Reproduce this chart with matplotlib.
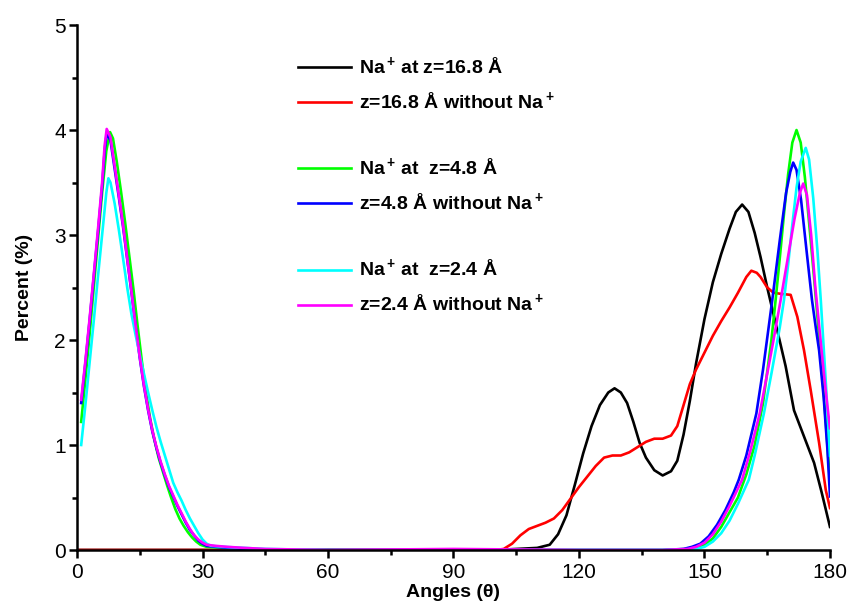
import numpy as np
import matplotlib
matplotlib.use("Agg")
import matplotlib.pyplot as plt
from matplotlib.lines import Line2D
from matplotlib.ticker import MultipleLocator

# angular distributions (percent) for the six runs
black_ang = [0, 100, 105, 110, 113, 115, 117, 119, 121, 123, 125, 127, 128.5, 130, 131.5, 133, 134.5, 136, 138, 140,
             142, 143.5, 145, 146.5, 148, 150, 152, 154, 156, 157.5, 159, 160.5, 162, 163.4, 165, 167, 169.4, 171.4,
             173.8, 176.2, 178, 180]
black_pct = [0, 0, 0.01, 0.02, 0.05, 0.15, 0.33, 0.62, 0.92, 1.18, 1.38, 1.5, 1.54, 1.5, 1.4, 1.22, 1.02, 0.88, 0.76, 0.71,
             0.75, 0.85, 1.1, 1.42, 1.78, 2.2, 2.55, 2.82, 3.06, 3.22, 3.29, 3.22, 3.02, 2.79, 2.5, 2.16, 1.75, 1.33,
             1.08, 0.83, 0.55, 0.22]

red_ang = [0, 100, 102, 104, 106, 108, 110, 112, 114, 116, 118, 120, 122, 124, 126, 128, 130, 132, 134, 136, 138, 140,
           142, 143.5, 145, 146.5, 148, 150, 152, 154, 156, 158, 160, 161.2, 162.5, 163.4, 165, 166.5, 168.2, 170.6,
           172.2, 173.8, 175.4, 177.4, 179, 180]
red_pct = [0, 0, 0.01, 0.06, 0.14, 0.2, 0.23, 0.26, 0.3, 0.38, 0.49, 0.6, 0.7, 0.8, 0.88, 0.9, 0.9, 0.93, 0.98, 1.03, 1.06,
           1.06, 1.09, 1.18, 1.38, 1.58, 1.72, 1.88, 2.04, 2.18, 2.31, 2.45, 2.6, 2.66, 2.64, 2.6, 2.5, 2.45, 2.44,
           2.43, 2.22, 1.9, 1.52, 1.02, 0.57, 0.4]

green_ang = [1, 2, 3, 4, 5, 6, 7, 7.9, 8.6, 9.5, 10.5, 11.5, 12.5, 13.5, 14.5, 15.5, 16.5, 17.5, 18.5, 19.5, 20.5, 21.5,
             22.5, 23.5, 24.5, 25.5, 26.5, 27.5, 28.5, 29.5, 31, 35, 40, 45, 60, 90, 120, 140, 146, 148, 150, 152,
             154, 156, 158, 160, 162, 164, 166, 167, 168, 169, 170, 171, 172, 173, 174, 175, 176, 177, 178, 179, 180]
green_pct = [1.22, 1.62, 2.05, 2.5, 2.95, 3.4, 3.8, 3.98, 3.92, 3.7, 3.42, 3.12, 2.8, 2.48, 2.13, 1.8, 1.5, 1.25, 1.05,
             0.88, 0.75, 0.62, 0.5, 0.39, 0.3, 0.23, 0.17, 0.12, 0.08, 0.05, 0.03, 0.02, 0.01, 0, 0, 0, 0, 0, 0.01,
             0.02, 0.05, 0.11, 0.22, 0.36, 0.5, 0.72, 1.0, 1.4, 2.0, 2.38, 2.78, 3.2, 3.58, 3.88, 4.0, 3.88, 3.55,
             3.12, 2.68, 2.22, 1.75, 1.22, 0.64]

blue_ang = [1, 2, 3, 4, 5, 6, 6.6, 7.1, 8, 9, 10, 11, 12, 13, 14, 15, 16, 17, 18, 19, 20, 21, 22, 23, 24, 25, 26, 27, 28,
            29, 30, 31, 33, 36, 40, 45, 60, 90, 120, 140, 145, 147, 149, 151, 153, 155, 157, 158.2, 160, 162.4, 164,
            166.2, 168, 169.5, 170.5, 171.2, 172, 173.1, 174.4, 175.7, 176.6, 177.4, 178.5, 179.4, 180]
blue_pct = [1.4, 1.78, 2.18, 2.6, 3.02, 3.46, 3.8, 3.97, 3.9, 3.63, 3.36, 3.08, 2.77, 2.46, 2.13, 1.83, 1.56, 1.33,
            1.13, 0.97, 0.83, 0.71, 0.6, 0.51, 0.42, 0.34, 0.26, 0.19, 0.14, 0.09, 0.06, 0.04, 0.03, 0.02, 0.01, 0,
            0, 0, 0, 0, 0.01, 0.03, 0.06, 0.13, 0.24, 0.38, 0.55, 0.67, 0.9, 1.3, 1.72, 2.38, 2.95, 3.4, 3.6, 3.69,
            3.62, 3.33, 2.85, 2.38, 2.12, 1.9, 1.45, 0.95, 0.51]

cyan_ang = [1, 2, 3, 4, 5, 6, 7, 7.5, 8, 9, 10, 11, 12, 13, 14, 15, 16, 17, 18, 19, 20, 21, 22, 23, 24, 25, 26, 27, 28,
            29, 30, 31, 32, 35, 40, 45, 60, 90, 120, 140, 148, 150, 152, 154, 156, 158, 160.6, 162, 164.2, 166,
            168, 169, 170, 171, 172, 173, 174.2, 175, 176, 177, 177.8, 179, 180]
cyan_pct = [1.0, 1.38, 1.78, 2.18, 2.6, 3.0, 3.4, 3.54, 3.5, 3.3, 3.05, 2.78, 2.5, 2.25, 2.05, 1.86, 1.68, 1.5, 1.33,
            1.17, 1.03, 0.9, 0.77, 0.64, 0.55, 0.47, 0.38, 0.3, 0.23, 0.16, 0.1, 0.06, 0.04, 0.03, 0.02, 0.01, 0, 0,
            0, 0, 0.01, 0.03, 0.08, 0.16, 0.28, 0.44, 0.67, 0.9, 1.3, 1.68, 2.12, 2.38, 2.72, 3.1, 3.45, 3.7, 3.83,
            3.72, 3.35, 2.85, 2.38, 1.6, 0.9]

magenta_ang = [1, 2, 3, 4, 5, 6, 6.6, 7.1, 8, 9, 10, 11, 12, 13, 14, 15, 16, 17, 18, 19, 20, 21, 22, 23, 24, 25, 26,
               27, 28, 29, 30, 31, 33, 36, 40, 45, 60, 90, 120, 140, 146, 148, 150, 152, 154, 156, 159, 161, 163.2,
               165, 166.5, 168.2, 170, 171.5, 172.8, 173.6, 174.5, 175.5, 176.5, 177.5, 178.5, 179.3, 180]
magenta_pct = [1.43, 1.8, 2.2, 2.62, 3.05, 3.5, 3.85, 4.01, 3.93, 3.66, 3.38, 3.1, 2.78, 2.47, 2.14, 1.84, 1.57, 1.34,
               1.14, 0.98, 0.84, 0.72, 0.61, 0.52, 0.43, 0.35, 0.27, 0.2, 0.14, 0.1, 0.07, 0.05, 0.04, 0.03, 0.02,
               0.01, 0, 0.01, 0, 0, 0.01, 0.03, 0.07, 0.15, 0.27, 0.42, 0.67, 0.95, 1.3, 1.68, 2.0, 2.38, 2.8, 3.15,
               3.4, 3.49, 3.38, 3.0, 2.5, 2.1, 1.7, 1.4, 1.16]

labels = ["Na$^{\\bf +}\\!$ at z=16.8 \u00c5", "z=16.8 \u00c5 without Na$^{\\bf +}$",
          "Na$^{\\bf +}\\!$ at  z=4.8 \u00c5", "z=4.8 \u00c5 without Na$^{\\bf +}$",
          "Na$^{\\bf +}\\!$ at  z=2.4 \u00c5", "z=2.4 \u00c5 without Na$^{\\bf +}$"]

plt.rcParams.update({'font.family': ['Liberation Sans', 'DejaVu Sans']})
plt.rcParams.update({'mathtext.fontset': 'custom'})
plt.rcParams.update({'mathtext.rm': 'Liberation Sans'})
plt.rcParams.update({'mathtext.bf': 'Liberation Sans:bold'})
plt.rcParams.update({'axes.linewidth': 1.8})

fig = plt.figure(figsize=(8.49, 6.07), dpi=100)
ax = fig.add_axes([0.0907, 0.0939, 0.8869, 0.8649])

lw = 1.9
l_black, = ax.plot(black_ang, black_pct, '-', color='#000000', lw=lw)
l_red, = ax.plot(red_ang, red_pct, '-', color='#ff0000', lw=lw)
l_green, = ax.plot(green_ang, green_pct, '-', color='#00ff00', lw=lw)
l_blue, = ax.plot(blue_ang, blue_pct, '-', color='#0000ff', lw=lw)
l_cyan, = ax.plot(cyan_ang, cyan_pct, '-', color='#00ffff', lw=lw)
l_magenta, = ax.plot(magenta_ang, magenta_pct, '-', color='#ff00ff', lw=lw)

ax.set_xlim(0, 180)
ax.set_ylim(0, 5)
ax.spines['top'].set_visible(False)
ax.spines['right'].set_visible(False)
ax.xaxis.set_major_locator(MultipleLocator(30))
ax.xaxis.set_minor_locator(MultipleLocator(15))
ax.yaxis.set_major_locator(MultipleLocator(1))
ax.yaxis.set_minor_locator(MultipleLocator(0.5))
ax.tick_params(which='major', direction='out', length=6, width=1.8, labelsize=15)
ax.tick_params(axis='x', which='major', pad=3)
ax.tick_params(axis='y', which='major', pad=2)
ax.tick_params(which='minor', direction='out', length=3.5, width=1.8)

ax.set_xlabel("Angles (\u03b8)", fontsize=14, fontweight='bold', labelpad=2)
ax.set_ylabel("Percent (%)", fontsize=14, fontweight='bold', labelpad=15)

# blank rows separate the three pairs
blank = Line2D([], [], color='none')
handles = [l_black, l_red, blank, l_green, l_blue, blank, l_cyan, l_magenta]
names = [labels[0], labels[1], " ", labels[2], labels[3], " ", labels[4], labels[5]]
leg = ax.legend(handles, names, loc='upper left', bbox_to_anchor=(0.293, 0.94), frameon=False,
                prop={'size': 14, 'weight': 'bold'}, handlelength=2.75, handletextpad=0.4,
                labelspacing=0.7, borderpad=0, borderaxespad=0)

fig.savefig('out.png', dpi=100)
plt.close(fig)
